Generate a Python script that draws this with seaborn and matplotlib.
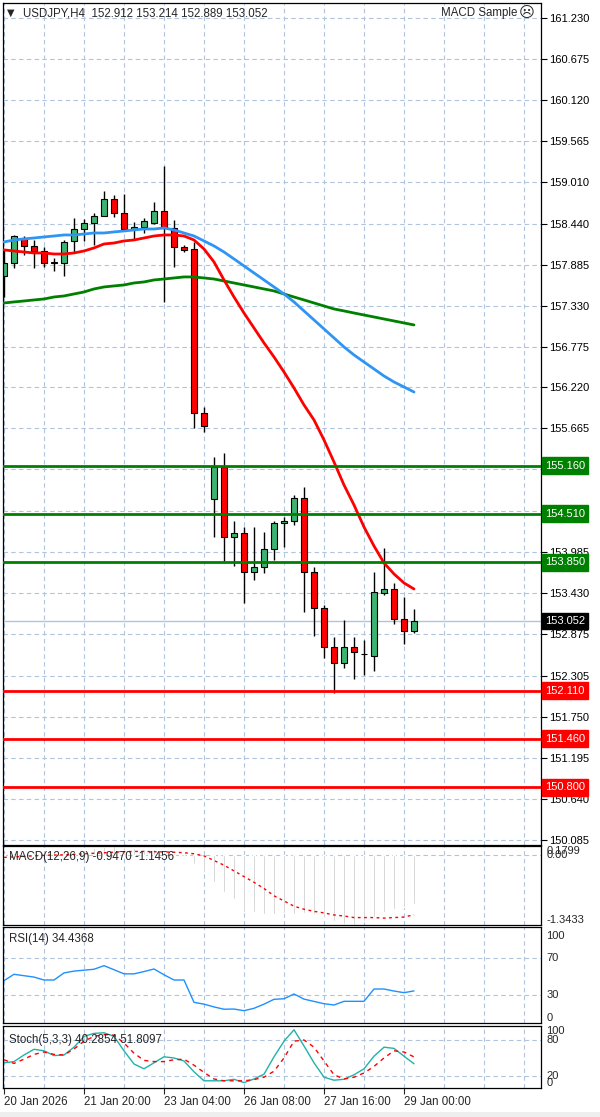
import numpy as np
import pandas as pd
import seaborn as sns
import matplotlib
matplotlib.use("Agg")
import matplotlib.pyplot as plt
import matplotlib.transforms as mtrans
from matplotlib.patches import Rectangle

# USDJPY H4 bars (20 Jan 12:00 -> 29 Jan 04:00)
opens = [157.73, 157.91, 158.25, 158.14, 158.07, 157.91, 157.91, 158.21, 158.37, 158.45,
         158.55, 158.78, 158.59, 158.37, 158.40, 158.45, 158.61, 158.38, 158.12, 158.10,
         155.88, 154.71, 155.14, 154.19, 154.25, 153.72, 153.79, 154.03, 154.38, 154.41,
         154.72, 153.72, 153.23, 152.70, 152.49, 152.70, 152.61, 152.58, 153.43, 153.49,
         153.08, 152.912]
highs = [158.09, 158.29, 158.27, 158.22, 158.12, 157.97, 158.22, 158.52, 158.50, 158.59,
         158.89, 158.83, 158.84, 158.46, 158.52, 158.74, 159.22, 158.49, 158.15, 158.19,
         155.96, 155.28, 155.33, 154.41, 154.33, 154.33, 154.26, 154.41, 154.47, 154.76,
         154.87, 153.79, 153.27, 152.84, 153.07, 152.84, 152.80, 153.72, 154.04, 153.57,
         153.38, 153.214]
lows = [157.45, 157.84, 158.02, 157.84, 157.85, 157.80, 157.73, 158.06, 158.20, 158.15,
        158.54, 158.53, 158.34, 158.22, 158.32, 158.44, 157.38, 157.85, 158.06, 155.67,
        155.62, 154.19, 153.87, 153.80, 153.30, 153.61, 153.71, 153.88, 154.06, 154.36,
        153.18, 152.85, 152.55, 152.08, 152.42, 152.27, 152.32, 152.38, 153.41, 153.01,
        152.74, 152.889]
closes = [157.91, 158.27, 158.14, 158.07, 157.91, 157.92, 158.19, 158.37, 158.45, 158.55,
          158.78, 158.59, 158.37, 158.40, 158.48, 158.61, 158.38, 158.12, 158.08, 155.88,
          155.70, 155.14, 154.19, 154.25, 153.72, 153.79, 154.03, 154.38, 154.41, 154.72,
          153.72, 153.23, 152.70, 152.49, 152.70, 152.63, 152.61, 153.45, 153.49, 153.08,
          152.92, 153.052]

# moving averages
ma_red = [158.085, 158.071, 158.057, 158.044, 158.044, 158.030, 158.030, 158.044, 158.071, 158.112,
          158.166, 158.179, 158.207, 158.220, 158.247, 158.274, 158.288, 158.288, 158.274, 158.220,
          158.098, 157.922, 157.678, 157.447, 157.230, 157.027, 156.824, 156.634, 156.430, 156.214,
          155.983, 155.780, 155.509, 155.210, 154.898, 154.627, 154.329, 154.071, 153.841, 153.692,
          153.570, 153.488]
ma_blue = [158.193, 158.220, 158.234, 158.247, 158.261, 158.274, 158.288, 158.288, 158.301, 158.315,
           158.315, 158.329, 158.342, 158.356, 158.369, 158.369, 158.383, 158.356, 158.315, 158.274,
           158.207, 158.139, 158.057, 157.963, 157.868, 157.773, 157.678, 157.583, 157.488, 157.380,
           157.258, 157.136, 157.014, 156.892, 156.770, 156.661, 156.566, 156.471, 156.376, 156.295,
           156.227, 156.159]
ma_green = [157.366, 157.380, 157.393, 157.407, 157.420, 157.447, 157.461, 157.488, 157.515, 157.556,
            157.583, 157.597, 157.610, 157.637, 157.651, 157.678, 157.691, 157.705, 157.719, 157.719,
            157.705, 157.691, 157.664, 157.637, 157.610, 157.583, 157.556, 157.529, 157.488, 157.447,
            157.407, 157.366, 157.325, 157.285, 157.258, 157.230, 157.203, 157.176, 157.149, 157.122,
            157.095, 157.068]

resist_levels = [155.160, 154.510, 153.850]
support_levels = [152.110, 151.460, 150.800]
last_price = 153.052

price_ticks = [161.230, 160.675, 160.120, 159.565, 159.010, 158.440, 157.885, 157.330, 156.775,
               156.220, 155.665, 155.110, 154.540, 153.985, 153.430, 152.875, 152.305, 151.750,
               151.195, 150.640, 150.085]

macd_main = [0.02, 0.04, 0.06, 0.06, 0.05, 0.04, 0.05, 0.08, 0.11, 0.14,
             0.17, 0.1799, 0.16, 0.14, 0.13, 0.13, 0.10, 0.05, 0.01, -0.16,
             -0.33, -0.51, -0.71, -0.85, -1.10, -1.10, -1.13, -1.13, -1.12, -1.13,
             -1.11, -1.13, -1.21, -1.27, -1.32, -1.3433, -1.26, -1.19, -1.10, -1.03,
             -1.00, -0.947]
macd_signal = [-0.04, -0.03, -0.02, -0.01, 0.0, 0.005, 0.01, 0.02, 0.03, 0.04,
               0.05, 0.06, 0.07, 0.075, 0.075, 0.07, 0.065, 0.06, 0.05, 0.03,
               -0.01, -0.10, -0.19, -0.30, -0.41, -0.52, -0.64, -0.78, -0.88, -0.98,
               -1.04, -1.08, -1.11, -1.15, -1.17, -1.20, -1.20, -1.20, -1.21, -1.20,
               -1.19, -1.1456]

rsi = [45.6, 52.5, 51.0, 49.5, 46.3, 46.3, 54.0, 56.0, 57.0, 58.0,
       61.9, 57.5, 53.0, 53.0, 55.5, 58.3, 52.0, 46.3, 46.3, 22.0,
       20.0, 17.0, 14.5, 14.7, 12.9, 15.5, 20.0, 25.3, 25.9, 31.1,
       25.5, 23.0, 20.5, 19.1, 23.1, 23.1, 23.1, 36.5, 36.5, 34.3,
       32.5, 34.4368]

stoch_k = [42, 44, 55, 64.5, 62, 54, 55, 68, 86, 91,
           92, 86, 62, 40, 32, 42, 52, 50, 45, 27,
           12, 12, 12, 14.5, 9, 15, 23, 52, 78, 97,
           70, 42, 18, 13, 14.5, 22, 32, 53, 68, 66,
           53, 40.2854]
stoch_d = [47, 41, 48, 56, 60, 56, 55, 65, 78, 86,
           89, 88, 75, 58, 46, 44, 44, 47, 48, 38,
           26, 15, 12, 12, 12, 14, 18, 28, 50, 78,
           80, 68, 45, 22, 15, 18, 25, 36, 50, 62,
           60, 51.8097]

date_pos = [0, 8, 16, 24, 32, 40]
date_labels = ["20 Jan 2026", "21 Jan 20:00", "23 Jan 04:00", "26 Jan 08:00",
               "27 Jan 16:00", "29 Jan 00:00"]

bars = pd.DataFrame({"open": opens, "high": highs, "low": lows, "close": closes,
                     "ma_red": ma_red, "ma_blue": ma_blue, "ma_green": ma_green,
                     "macd": macd_main, "signal": macd_signal, "rsi": rsi,
                     "k": stoch_k, "d": stoch_d})
bars["idx"] = np.arange(len(bars))

sns.set_style("white")
plt.rcParams["font.family"] = ["Liberation Sans", "DejaVu Sans"]
plt.rcParams["font.size"] = 8

W, H = 600, 1117
fig = plt.figure(figsize=(W / 100, H / 100), dpi=100)

GRID = "#b0c4de"
DASH = (0, (4, 3))


def panel(top, bottom, left=3, right=541):
    return fig.add_axes([left / W, 1 - bottom / H, (right - left) / W, (bottom - top) / H])


def style(ax, ylim):
    ax.set_xlim(-0.1, 53.7)
    ax.set_ylim(*ylim)
    ax.set_xticks(np.arange(0, 54, 4))
    ax.xaxis.grid(True, color=GRID, linestyle=DASH, lw=0.8)
    ax.set_axisbelow(True)
    ax.yaxis.tick_right()
    ax.tick_params(axis="x", length=0, labelbottom=False)
    ax.tick_params(axis="y", direction="out", length=4, width=0.8, pad=2,
                   labelsize=8, colors="black")
    for s in ax.spines.values():
        s.set_color("black")
        s.set_linewidth(0.9)


# ---------------- main price panel
ax = panel(3, 845)
style(ax, (150.017, 161.433))
ax.set_yticks(price_ticks)
ax.set_yticklabels([f"{t:.3f}" for t in price_ticks])
ax.yaxis.grid(True, color=GRID, linestyle=DASH, lw=0.8)

ax.axhline(last_price, color="#b0c4de", lw=1, zorder=1)

up = bars["close"] >= bars["open"]
body_col = np.where(up, "#3cb371", "#ff0000")
ax.vlines(bars["idx"], bars["low"], bars["high"], color="black", lw=1, zorder=2)
ax.bar(bars["idx"], bars["close"] - bars["open"], bottom=bars["open"], width=0.6,
       color=body_col, edgecolor="black", linewidth=0.8, zorder=2.2)

sns.lineplot(data=bars, x="idx", y="ma_green", ax=ax, color="#008000", lw=2, zorder=3)
sns.lineplot(data=bars, x="idx", y="ma_blue", ax=ax, color="#2f95f5", lw=2, zorder=3)
sns.lineplot(data=bars, x="idx", y="ma_red", ax=ax, color="#ff0000", lw=2, zorder=3)
ax.set_xlabel("")
ax.set_ylabel("")

ytrans = mtrans.blended_transform_factory(ax.transAxes, ax.transData)
for lvl in resist_levels:
    ax.axhline(lvl, color="#008000", lw=2, zorder=4)
    ax.text(1.0075, lvl, f"{lvl:.3f}", transform=ytrans, ha="left", va="center",
            color="white", fontsize=8, zorder=6,
            bbox=dict(boxstyle="square,pad=0.3", fc="#008000", ec="#008000"))
for lvl in support_levels:
    ax.axhline(lvl, color="#ff0000", lw=2, zorder=4)
    ax.text(1.0075, lvl, f"{lvl:.3f}", transform=ytrans, ha="left", va="center",
            color="white", fontsize=8, zorder=6,
            bbox=dict(boxstyle="square,pad=0.3", fc="#ff0000", ec="#ff0000"))
ax.text(1.0075, last_price, f"{last_price:.3f}", transform=ytrans, ha="left", va="center",
        color="white", fontsize=8, zorder=6,
        bbox=dict(boxstyle="square,pad=0.3", fc="black", ec="black"))

fig.text(7 / W, 1 - 13 / H, "\u25bc", fontsize=7, va="center", family=["DejaVu Sans"])
fig.text(23 / W, 1 - 13 / H, "USDJPY,H4  152.912 153.214 152.889 153.052", va="center", fontsize=8.3)
fig.text(517 / W, 1 - 13 / H, "MACD Sample", va="center", ha="right", fontsize=8.3)
fig.text(519 / W, 1 - 13 / H, "\u2639", va="center", ha="left", fontsize=11, family=["DejaVu Sans"])

# ---------------- MACD
axm = panel(846, 925)
lo = min(min(macd_main), min(macd_signal))
hi = max(max(macd_main), max(macd_signal))
style(axm, (lo, hi))
axm.set_yticks([])
axm.axhline(0, color=GRID, linestyle=DASH, lw=0.8, zorder=0)
axm.bar(bars["idx"], bars["macd"], width=0.2, color="#c0c0c0", zorder=2)
sns.lineplot(data=bars, x="idx", y="signal", ax=axm, color="#ff0000", lw=1,
             linestyle=(0, (2, 2.5)), zorder=3)
axm.set_xlabel("")
axm.set_ylabel("")
axm.text(0.012, 0.86, "MACD(12,26,9) -0.9470 -1.1456", transform=axm.transAxes,
         va="center", fontsize=8.3)
mt = mtrans.blended_transform_factory(axm.transAxes, axm.transData)
axm.text(1.01, hi, "0.1799", transform=mt, va="top", fontsize=8)
axm.text(1.01, 0, "0.00", transform=mt, va="center", fontsize=8)
axm.text(1.01, lo, "-1.3433", transform=mt, va="bottom", fontsize=8)

# ---------------- RSI
axr = panel(927, 1023)
style(axr, (-0.5, 104))
axr.set_yticks([0, 30, 70, 100])
axr.set_yticklabels([])
axr.tick_params(axis="y", length=0)
for lv in [30, 70]:
    axr.axhline(lv, color=GRID, linestyle=DASH, lw=0.8, zorder=0)
sns.lineplot(data=bars, x="idx", y="rsi", ax=axr, color="#1e90ff", lw=1)
axr.set_xlabel("")
axr.set_ylabel("")
axr.text(0.012, 0.88, "RSI(14) 34.4368", transform=axr.transAxes, va="center", fontsize=8.3)
rt = mtrans.blended_transform_factory(axr.transAxes, axr.transData)
axr.text(1.01, 100, "100", transform=rt, va="top", fontsize=8)
axr.text(1.01, 70, "70", transform=rt, va="center", fontsize=8)
axr.text(1.01, 30, "30", transform=rt, va="center", fontsize=8)
axr.text(1.01, -0.5, "0", transform=rt, va="bottom", fontsize=8)

# ---------------- Stochastic
axs = panel(1026, 1088)
style(axs, (0, 103.3))
axs.set_yticks([])
for lv in [20, 80]:
    axs.axhline(lv, color=GRID, linestyle=DASH, lw=0.8, zorder=0)
sns.lineplot(data=bars, x="idx", y="k", ax=axs, color="#20b2aa", lw=1)
sns.lineplot(data=bars, x="idx", y="d", ax=axs, color="#ff0000", lw=1, linestyle=(0, (3, 3)))
axs.set_xlabel("")
axs.set_ylabel("")
axs.text(0.012, 0.78, "Stoch(5,3,3) 40.2854 51.8097", transform=axs.transAxes,
         va="center", fontsize=8.3)
st = mtrans.blended_transform_factory(axs.transAxes, axs.transData)
axs.text(1.01, 103.3, "100", transform=st, va="top", fontsize=8)
axs.text(1.01, 80, "80", transform=st, va="center", fontsize=8)
axs.text(1.01, 20, "20", transform=st, va="center", fontsize=8)
axs.text(1.01, 0, "0", transform=st, va="bottom", fontsize=8)

# date axis: minor ticks share spots with the grid ticks, keep them
axs.xaxis.remove_overlapping_locs = False
axs.set_xticks(date_pos, minor=True)
axs.set_xticklabels(date_labels, minor=True)
axs.tick_params(axis="x", which="minor", length=4, width=0.8, direction="out",
                bottom=True, labelbottom=True, labelsize=8.3, pad=2)
for lbl in axs.get_xticklabels(minor=True):
    lbl.set_ha("left")

fig.add_artist(Rectangle((0, 0), 1, 5 / H, transform=fig.transFigure,
                         facecolor="#eeeeee", edgecolor="none"))

fig.savefig("out.png", dpi=100)
